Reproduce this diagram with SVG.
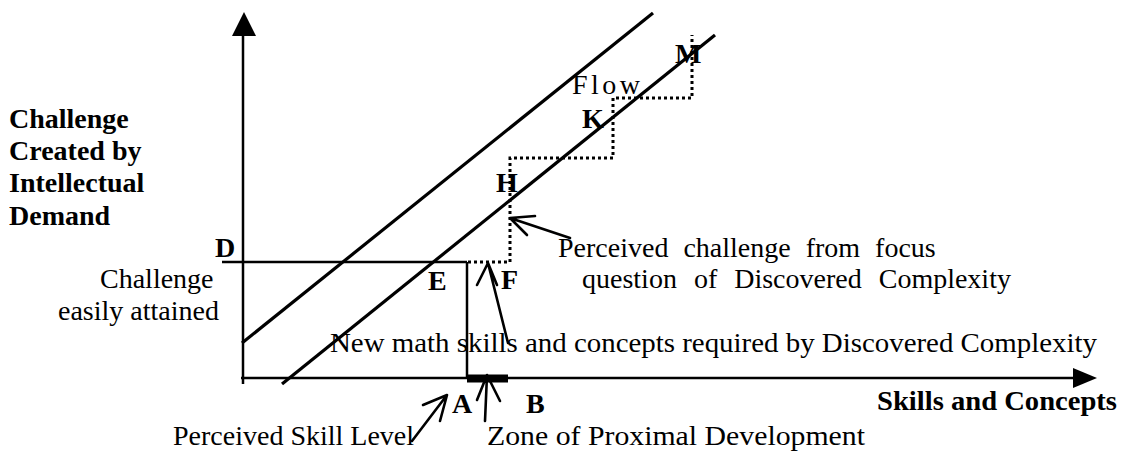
<svg xmlns="http://www.w3.org/2000/svg" width="1123" height="452" viewBox="0 0 1123 452">
<style>
.t{font-family:"Liberation Serif","Times New Roman",serif;font-size:28px;fill:#000}
.b{font-weight:bold}
.ax{stroke:#000;stroke-width:2.5;fill:none}
.dg{stroke:#000;stroke-width:3.2;fill:none}
.dot{stroke:#000;stroke-width:3;fill:none;stroke-dasharray:3 3}
.ar{stroke:#000;stroke-width:2.6;fill:none;stroke-linecap:round;stroke-linejoin:round}
</style>
<rect width="1123" height="452" fill="#fff"/>
<g id="connectors">
  <g id="axes">
    <line class="ax" x1="243" y1="384" x2="243" y2="32"/>
    <polygon points="244,12 232,36 256,36" fill="#000"/>
    <line class="ax" x1="241" y1="378" x2="1076" y2="378"/>
    <polygon points="1097,378 1073,368 1073,388" fill="#000"/>
  </g>
  <line class="ax" x1="222" y1="262" x2="467" y2="262"/>
  <line class="ax" x1="467" y1="262" x2="467" y2="378"/>
  <rect x="467" y="374.5" width="41" height="8" fill="#000"/>
  <line class="dg" x1="242" y1="343" x2="653" y2="13"/>
  <line class="dg" x1="282" y1="384" x2="715" y2="35"/>
  <polyline class="dot" points="468,262 510,262 510,158 613,158 613,98 692,98 692,35"/>
  <g id="arrows">
    <path class="ar" d="M570,238 L510,218 M535,216 L510,218 L527,235"/>
    <path class="ar" d="M508,343 L488,263 M477,285 L488,263 L497,285"/>
    <path class="ar" d="M412,441 L447,395 M423,405 L447,395 L440,421"/>
    <path class="ar" d="M485,421 L487,375 M477,400 L487,375 L500,401"/>
  </g>
</g>
<g id="y-label"><text class="t b" x="9" y="128">Challenge</text><text class="t b" x="9" y="160">Created by</text><text class="t b" x="9" y="192">Intellectual</text><text class="t b" x="9" y="225">Demand</text></g>
<g id="x-label"><text class="t b" x="877" y="410" textLength="240" lengthAdjust="spacingAndGlyphs">Skills and Concepts</text></g>
<g id="pt-D"><text class="t b" x="215" y="257">D</text></g>
<g id="pt-E"><text class="t b" x="428" y="290">E</text></g>
<g id="pt-F"><text class="t b" x="501" y="289">F</text></g>
<g id="pt-H"><text class="t b" x="496" y="192">H</text></g>
<g id="pt-K"><text class="t b" x="582" y="128">K</text></g>
<g id="pt-M"><text class="t b" x="675" y="63">M</text></g>
<g id="pt-A"><text class="t b" x="452" y="413">A</text></g>
<g id="pt-B"><text class="t b" x="526" y="413">B</text></g>
<g id="flow"><text class="t" x="572" y="94" letter-spacing="3.5">Flow</text></g>
<g id="easy"><text class="t" x="100" y="288">Challenge</text><text class="t" x="58" y="320">easily attained</text></g>
<g id="perceived-challenge"><text class="t" x="558" y="257" word-spacing="8">Perceived challenge from focus</text><text class="t" x="582" y="288" word-spacing="10">question of Discovered Complexity</text></g>
<g id="new-math"><text class="t" x="330" y="352" textLength="767" lengthAdjust="spacingAndGlyphs">New math skills and concepts required by Discovered Complexity</text></g>
<g id="skill-level"><text class="t" x="173" y="445">Perceived Skill Level</text></g>
<g id="zpd"><text class="t" x="487" y="445" textLength="378" lengthAdjust="spacingAndGlyphs">Zone of Proximal Development</text></g>
</svg>
